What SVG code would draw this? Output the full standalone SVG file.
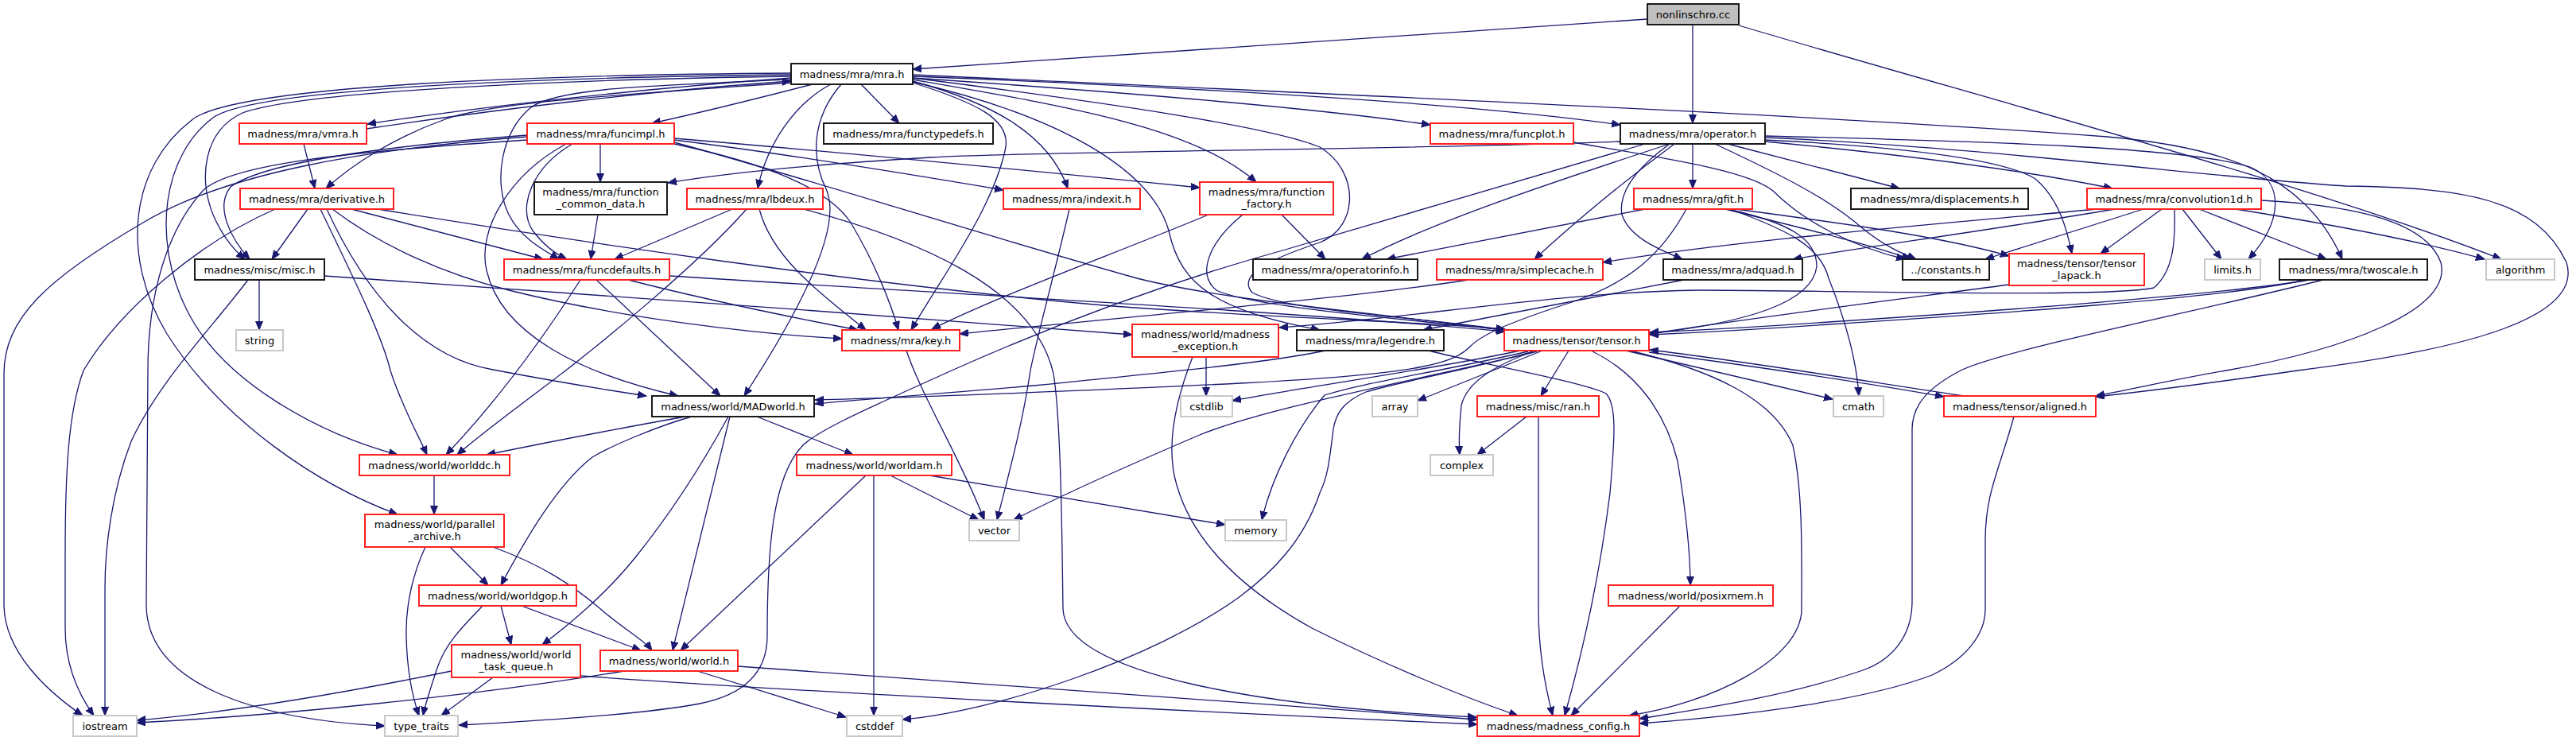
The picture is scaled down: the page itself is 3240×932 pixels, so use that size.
<svg xmlns="http://www.w3.org/2000/svg" width="3240" height="932" viewBox="0 0 3240 932">
<style>
rect{fill:#fff;stroke-width:2}
.b{stroke:#1a1a1a}
.r{stroke:#ff2020}
.g{stroke:#c8c8c8}
.root{fill:#bfbfbf;stroke:#1a1a1a}
text{font-family:"DejaVu Sans","Liberation Sans",sans-serif;font-size:13px;fill:#000;text-anchor:middle}
#edges path{fill:none;stroke:#191970;stroke-width:1.3}
</style>
<defs>
<marker id="a" markerUnits="userSpaceOnUse" markerWidth="12" markerHeight="10" refX="11" refY="4.5" orient="auto"><path d="M0,0 L11,4.5 L0,9 z" fill="#191970" stroke="#191970" stroke-width="1"/></marker>
</defs>
<rect x="0" y="0" width="3240" height="932" style="fill:#fff;stroke:none"/>
<g id="edges">
<path d="M2072,24 L1148,87" marker-end="url(#a)"/>
<path d="M2129,31 L2129,155" marker-end="url(#a)"/>
<path d="M2187,32 C2500,125 2900,230 3146,326" marker-end="url(#a)"/>
<path d="M995,98 C800,112 600,135 462,156" marker-end="url(#a)"/>
<path d="M461,162 C620,138 820,114 995,102" marker-end="url(#a)"/>
<path d="M1022,106 C960,122 880,142 820,155" marker-end="url(#a)"/>
<path d="M995,104 C800,118 620,128 560,150 C490,175 440,210 410,237" marker-end="url(#a)"/>
<path d="M995,96 C700,100 380,115 305,142 C255,165 250,225 268,270 C280,298 295,315 308,326" marker-end="url(#a)"/>
<path d="M995,94 C700,97 320,110 268,148 C205,195 190,300 235,390 C280,480 400,545 500,572" marker-end="url(#a)"/>
<path d="M995,92 C700,94 290,106 240,152 C165,210 150,320 210,420 C280,530 400,610 500,647" marker-end="url(#a)"/>
<path d="M995,100 C800,108 700,112 668,135 C630,165 620,230 640,270 C655,300 685,315 703,326" marker-end="url(#a)"/>
<path d="M1045,106 C1000,130 965,180 953,237" marker-end="url(#a)"/>
<path d="M1058,106 C1020,150 1020,200 1040,240 C1060,290 1000,400 936,498" marker-end="url(#a)"/>
<path d="M1083,106 L1131,155" marker-end="url(#a)"/>
<path d="M1148,104 C1230,130 1270,150 1265,185 C1250,260 1190,340 1146,415" marker-end="url(#a)"/>
<path d="M1148,102 C1250,130 1320,170 1343,237" marker-end="url(#a)"/>
<path d="M1148,103 C1350,150 1450,220 1470,290 C1485,360 1530,390 1660,415" marker-end="url(#a)"/>
<path d="M1148,100 C1350,135 1500,160 1580,229" marker-end="url(#a)"/>
<path d="M1148,98 C1400,130 1600,160 1660,185 C1710,215 1710,285 1660,305 C1600,325 1555,345 1575,368 C1620,392 1800,400 1893,415" marker-end="url(#a)"/>
<path d="M1148,94 C1600,115 2300,145 2650,172 C2800,185 2900,220 2946,326" marker-end="url(#a)"/>
<path d="M1148,96 C1500,110 1850,130 2038,157" marker-end="url(#a)"/>
<path d="M1148,98 C1400,115 1650,135 1799,157" marker-end="url(#a)"/>
<path d="M382,181 L396,237" marker-end="url(#a)"/>
<path d="M663,172 C450,188 280,220 180,280 C60,350 5,400 5,470 L5,760 C5,820 60,870 104,900" marker-end="url(#a)"/>
<path d="M663,176 C450,190 290,205 255,240 C210,290 186,370 186,466 L184,760 C184,860 320,905 484,913" marker-end="url(#a)"/>
<path d="M663,170 C470,185 330,205 290,235 C270,260 290,300 314,326" marker-end="url(#a)"/>
<path d="M755,181 L755,229" marker-end="url(#a)"/>
<path d="M720,181 C670,210 650,260 670,290 C685,310 700,320 713,326" marker-end="url(#a)"/>
<path d="M712,181 C640,220 600,290 612,340 C630,420 730,470 853,498" marker-end="url(#a)"/>
<path d="M848,181 C960,205 1040,235 1070,280 C1100,330 1120,380 1130,415" marker-end="url(#a)"/>
<path d="M848,179 C1000,220 1250,300 1430,350 C1550,380 1750,395 1893,416" marker-end="url(#a)"/>
<path d="M848,176 C1000,195 1150,220 1262,239" marker-end="url(#a)"/>
<path d="M848,174 C1100,195 1350,220 1509,236" marker-end="url(#a)"/>
<path d="M387,263 L342,326" marker-end="url(#a)"/>
<path d="M442,263 L683,326" marker-end="url(#a)"/>
<path d="M346,263 C250,305 150,390 105,466 C85,520 82,600 82,700 L82,790 C82,840 100,875 118,900" marker-end="url(#a)"/>
<path d="M418,263 C480,310 560,345 640,365 C780,400 950,420 1059,426" marker-end="url(#a)"/>
<path d="M411,263 C460,370 530,450 620,465 C700,480 760,490 813,498" marker-end="url(#a)"/>
<path d="M403,263 C440,340 480,420 491,466 C505,510 525,545 537,572" marker-end="url(#a)"/>
<path d="M475,263 C700,300 1100,360 1400,385 C1600,400 1800,405 1893,414" marker-end="url(#a)"/>
<path d="M326,352 L326,415" marker-end="url(#a)"/>
<path d="M312,352 C260,420 200,480 165,555 C140,620 132,690 132,740 L132,900" marker-end="url(#a)"/>
<path d="M408,347 C700,368 1100,395 1424,421" marker-end="url(#a)"/>
<path d="M752,270 L743,326" marker-end="url(#a)"/>
<path d="M921,263 L773,326" marker-end="url(#a)"/>
<path d="M939,263 C880,330 760,430 680,490 C640,520 600,550 575,572" marker-end="url(#a)"/>
<path d="M955,263 C970,320 1020,360 1089,415" marker-end="url(#a)"/>
<path d="M1011,263 C1150,300 1300,360 1325,470 C1335,530 1336,700 1337,766 C1340,850 1600,890 1857,902" marker-end="url(#a)"/>
<path d="M730,352 C680,430 620,510 561,572" marker-end="url(#a)"/>
<path d="M750,352 L906,498" marker-end="url(#a)"/>
<path d="M790,352 C900,380 1000,400 1079,415" marker-end="url(#a)"/>
<path d="M842,347 C1200,370 1600,390 1893,417" marker-end="url(#a)"/>
<path d="M1345,263 C1325,350 1305,420 1296,466 C1285,540 1265,610 1254,654" marker-end="url(#a)"/>
<path d="M1140,441 C1160,500 1210,580 1238,654" marker-end="url(#a)"/>
<path d="M1520,270 C1400,320 1260,370 1172,414" marker-end="url(#a)"/>
<path d="M1563,270 C1520,305 1505,345 1530,365 C1570,385 1750,400 1893,415" marker-end="url(#a)"/>
<path d="M1612,270 L1667,326" marker-end="url(#a)"/>
<path d="M2038,178 C1800,188 1300,190 1171,198 C1000,208 900,220 840,230" marker-end="url(#a)"/>
<path d="M2069,181 L1620,313 C1450,360 1300,420 1197,466 C1100,510 1030,540 1010,560 C970,600 965,700 965,800 C965,850 930,875 880,885 C800,900 650,908 577,912" marker-end="url(#a)"/>
<path d="M2100,181 C1950,230 1800,280 1713,326" marker-end="url(#a)"/>
<path d="M2106,181 C2040,230 1980,280 1930,326" marker-end="url(#a)"/>
<path d="M2100,181 C2060,210 2035,240 2040,270 C2050,300 2090,315 2116,326" marker-end="url(#a)"/>
<path d="M2129,181 L2129,237" marker-end="url(#a)"/>
<path d="M2173,181 L2389,237" marker-end="url(#a)"/>
<path d="M2157,181 C2240,220 2300,250 2340,285 C2370,310 2395,320 2410,326" marker-end="url(#a)"/>
<path d="M2220,171 C2500,178 2750,185 2830,210 C2875,230 2870,280 2828,326" marker-end="url(#a)"/>
<path d="M2220,173 C2500,185 2800,225 2950,234 C3100,236 3190,250 3228,330 C3250,400 3100,440 2890,466 C2780,482 2700,492 2636,499" marker-end="url(#a)"/>
<path d="M2220,176 C2400,185 2520,200 2560,225 C2590,250 2600,290 2606,319" marker-end="url(#a)"/>
<path d="M2220,178 C2400,195 2550,215 2657,237" marker-end="url(#a)"/>
<path d="M1979,179 C2100,200 2200,215 2230,240 C2270,280 2330,310 2396,326" marker-end="url(#a)"/>
<path d="M2069,263 L1744,326" marker-end="url(#a)"/>
<path d="M2121,263 C2090,320 2050,355 1977,380 C1900,405 1865,420 1850,435 C1830,455 1800,470 1560,482 C1400,490 1150,500 1025,503" marker-end="url(#a)"/>
<path d="M2170,263 C2280,290 2360,310 2403,326" marker-end="url(#a)"/>
<path d="M2183,263 C2350,285 2450,300 2527,322" marker-end="url(#a)"/>
<path d="M2176,263 C2250,290 2290,310 2300,350 C2320,400 2335,450 2338,498" marker-end="url(#a)"/>
<path d="M2173,263 C2250,280 2285,300 2285,335 C2280,380 2200,405 2075,420" marker-end="url(#a)"/>
<path d="M2637,263 C2430,283 2200,300 2016,330" marker-end="url(#a)"/>
<path d="M2660,263 C2500,290 2350,310 2255,326" marker-end="url(#a)"/>
<path d="M2696,263 L2497,326" marker-end="url(#a)"/>
<path d="M2719,263 L2642,319" marker-end="url(#a)"/>
<path d="M2745,263 L2794,326" marker-end="url(#a)"/>
<path d="M2766,263 L2926,326" marker-end="url(#a)"/>
<path d="M2812,263 C2950,285 3050,305 3125,326" marker-end="url(#a)"/>
<path d="M2844,252 C2950,258 3050,275 3070,330 C3085,390 2950,440 2800,466 C2720,480 2680,490 2636,498" marker-end="url(#a)"/>
<path d="M2735,263 C2736,300 2735,340 2709,362 C2650,375 2300,365 2137,365 C1950,368 1780,400 1609,412" marker-end="url(#a)"/>
<path d="M2905,352 C2800,370 2500,392 2300,405 C2200,412 2120,416 2075,418" marker-end="url(#a)"/>
<path d="M2900,352 C2800,375 2500,395 2300,408 C2200,415 2120,419 2075,421" marker-end="url(#a)"/>
<path d="M2922,352 C2750,395 2520,440 2466,466 C2430,485 2405,506 2405,540 L2405,756 C2405,800 2380,830 2343,843 C2250,875 2150,890 2062,904" marker-end="url(#a)"/>
<path d="M2527,358 C2400,375 2200,400 2075,420" marker-end="url(#a)"/>
<path d="M2470,498 C2350,480 2200,455 2075,440" marker-end="url(#a)"/>
<path d="M2074,443 C2200,460 2350,482 2445,499" marker-end="url(#a)"/>
<path d="M2533,524 C2515,590 2497,620 2497,680 L2497,766 C2497,800 2470,830 2430,849 C2350,880 2200,900 2062,910" marker-end="url(#a)"/>
<path d="M1912,441 C1800,465 1650,485 1550,504" marker-end="url(#a)"/>
<path d="M1933,442 C1800,475 1600,510 1509,547 C1420,585 1340,620 1275,654" marker-end="url(#a)"/>
<path d="M1928,442 C1850,465 1760,480 1718,493 C1690,505 1680,520 1677,540 C1672,580 1670,600 1660,620 C1640,680 1600,720 1560,750 C1450,830 1250,895 1135,905" marker-end="url(#a)"/>
<path d="M1922,442 C1800,470 1720,480 1666,497 C1630,540 1600,600 1587,654" marker-end="url(#a)"/>
<path d="M1940,441 L1783,504" marker-end="url(#a)"/>
<path d="M1928,442 C1880,460 1845,480 1838,510 C1835,540 1835,560 1836,572" marker-end="url(#a)"/>
<path d="M1973,441 L1938,498" marker-end="url(#a)"/>
<path d="M2003,442 C2060,470 2095,520 2110,580 C2120,640 2126,690 2126,736" marker-end="url(#a)"/>
<path d="M2045,441 L2305,502" marker-end="url(#a)"/>
<path d="M2050,441 C2150,465 2230,500 2255,560 C2268,620 2266,700 2266,766 C2266,830 2150,885 2049,900" marker-end="url(#a)"/>
<path d="M1667,441 C1600,455 1500,465 1300,485 C1150,498 1060,504 1025,508" marker-end="url(#a)"/>
<path d="M1797,441 C1850,455 1990,480 2020,495 C2035,510 2030,560 2025,620 C2010,740 1985,840 1968,900" marker-end="url(#a)"/>
<path d="M1920,524 L1858,572" marker-end="url(#a)"/>
<path d="M1935,524 L1935,766 C1935,820 1945,870 1953,900" marker-end="url(#a)"/>
<path d="M2113,762 L1976,900" marker-end="url(#a)"/>
<path d="M1517,449 L1517,498" marker-end="url(#a)"/>
<path d="M1500,449 C1480,500 1465,560 1480,610 C1500,680 1560,740 1650,790 C1750,840 1850,880 1909,900" marker-end="url(#a)"/>
<path d="M2118,352 C2000,375 1870,400 1790,415" marker-end="url(#a)"/>
<path d="M1847,352 C1700,375 1400,400 1207,420" marker-end="url(#a)"/>
<path d="M862,524 C800,535 720,550 612,572" marker-end="url(#a)"/>
<path d="M870,524 C830,535 770,560 745,575 C700,610 660,680 630,736" marker-end="url(#a)"/>
<path d="M916,524 C880,590 840,650 800,700 C760,750 710,790 682,811" marker-end="url(#a)"/>
<path d="M918,524 L846,818" marker-end="url(#a)"/>
<path d="M952,524 L1073,572" marker-end="url(#a)"/>
<path d="M546,598 L546,647" marker-end="url(#a)"/>
<path d="M535,688 C520,720 510,760 511,800 C512,850 520,880 527,900" marker-end="url(#a)"/>
<path d="M566,688 L614,736" marker-end="url(#a)"/>
<path d="M620,688 C680,710 720,735 760,770 C790,795 810,805 820,818" marker-end="url(#a)"/>
<path d="M607,762 C580,790 560,810 550,840 C540,870 535,885 532,900" marker-end="url(#a)"/>
<path d="M630,762 L643,811" marker-end="url(#a)"/>
<path d="M656,762 L806,818" marker-end="url(#a)"/>
<path d="M568,844 C450,868 300,895 172,906" marker-end="url(#a)"/>
<path d="M620,852 L555,900" marker-end="url(#a)"/>
<path d="M730,850 C1000,870 1500,895 1858,911" marker-end="url(#a)"/>
<path d="M785,844 C600,875 350,900 172,909" marker-end="url(#a)"/>
<path d="M877,844 L1064,902" marker-end="url(#a)"/>
<path d="M928,838 C1300,865 1600,888 1858,905" marker-end="url(#a)"/>
<path d="M1089,598 L856,818" marker-end="url(#a)"/>
<path d="M1099,598 L1099,900" marker-end="url(#a)"/>
<path d="M1120,598 L1231,654" marker-end="url(#a)"/>
<path d="M1169,598 L1541,660" marker-end="url(#a)"/>
</g>
<g id="n_cc"><rect class="root" x="2072" y="5" width="115" height="26"/><text x="2129.5" y="22.5">nonlinschro.cc</text></g>
<g id="n_mra"><rect class="b" x="995" y="80" width="153" height="26"/><text x="1071.5" y="97.5">madness/mra/mra.h</text></g>
<g id="n_vmra"><rect class="r" x="301" y="155" width="160" height="26"/><text x="381" y="172.5">madness/mra/vmra.h</text></g>
<g id="n_funcimpl"><rect class="r" x="663" y="155" width="185" height="26"/><text x="755.5" y="172.5">madness/mra/funcimpl.h</text></g>
<g id="n_functypedefs"><rect class="b" x="1036" y="155" width="213" height="26"/><text x="1142.5" y="172.5">madness/mra/functypedefs.h</text></g>
<g id="n_funcplot"><rect class="r" x="1799" y="155" width="180" height="26"/><text x="1889" y="172.5">madness/mra/funcplot.h</text></g>
<g id="n_operator"><rect class="b" x="2038" y="155" width="182" height="26"/><text x="2129" y="172.5">madness/mra/operator.h</text></g>
<g id="n_derivative"><rect class="r" x="302" y="237" width="193" height="26"/><text x="398.5" y="254.5">madness/mra/derivative.h</text></g>
<g id="n_fcd"><rect class="b" x="672" y="229" width="167" height="41"/><text x="755.5" y="246">madness/mra/function</text><text x="755.5" y="261">_common_data.h</text></g>
<g id="n_lbdeux"><rect class="r" x="864" y="237" width="171" height="26"/><text x="949.5" y="254.5">madness/mra/lbdeux.h</text></g>
<g id="n_indexit"><rect class="r" x="1262" y="237" width="172" height="26"/><text x="1348" y="254.5">madness/mra/indexit.h</text></g>
<g id="n_ffactory"><rect class="r" x="1509" y="229" width="168" height="41"/><text x="1593" y="246">madness/mra/function</text><text x="1593" y="261">_factory.h</text></g>
<g id="n_gfit"><rect class="r" x="2055" y="237" width="149" height="26"/><text x="2129.5" y="254.5">madness/mra/gfit.h</text></g>
<g id="n_displ"><rect class="b" x="2328" y="237" width="223" height="26"/><text x="2439.5" y="254.5">madness/mra/displacements.h</text></g>
<g id="n_conv1d"><rect class="r" x="2625" y="237" width="219" height="26"/><text x="2734.5" y="254.5">madness/mra/convolution1d.h</text></g>
<g id="n_misc"><rect class="b" x="245" y="326" width="163" height="26"/><text x="326.5" y="343.5">madness/misc/misc.h</text></g>
<g id="n_string"><rect class="g" x="297" y="415" width="59" height="26"/><text x="326.5" y="432.5">string</text></g>
<g id="n_funcdefaults"><rect class="r" x="634" y="326" width="208" height="26"/><text x="738" y="343.5">madness/mra/funcdefaults.h</text></g>
<g id="n_opinfo"><rect class="b" x="1576" y="326" width="207" height="26"/><text x="1679.5" y="343.5">madness/mra/operatorinfo.h</text></g>
<g id="n_simplecache"><rect class="r" x="1807" y="326" width="209" height="26"/><text x="1911.5" y="343.5">madness/mra/simplecache.h</text></g>
<g id="n_adquad"><rect class="b" x="2092" y="326" width="175" height="26"/><text x="2179.5" y="343.5">madness/mra/adquad.h</text></g>
<g id="n_constants"><rect class="b" x="2393" y="326" width="109" height="26"/><text x="2447.5" y="343.5">../constants.h</text></g>
<g id="n_tlapack"><rect class="r" x="2527" y="319" width="170" height="40"/><text x="2612" y="336">madness/tensor/tensor</text><text x="2612" y="351">_lapack.h</text></g>
<g id="n_limits"><rect class="g" x="2773" y="326" width="70" height="26"/><text x="2808" y="343.5">limits.h</text></g>
<g id="n_twoscale"><rect class="b" x="2867" y="326" width="186" height="26"/><text x="2960" y="343.5">madness/mra/twoscale.h</text></g>
<g id="n_algorithm"><rect class="g" x="3127" y="326" width="86" height="26"/><text x="3170" y="343.5">algorithm</text></g>
<g id="n_key"><rect class="r" x="1059" y="415" width="148" height="26"/><text x="1133" y="432.5">madness/mra/key.h</text></g>
<g id="n_mexc"><rect class="r" x="1424" y="408" width="184" height="41"/><text x="1516" y="425">madness/world/madness</text><text x="1516" y="440">_exception.h</text></g>
<g id="n_legendre"><rect class="b" x="1631" y="415" width="185" height="26"/><text x="1723.5" y="432.5">madness/mra/legendre.h</text></g>
<g id="n_tensor"><rect class="r" x="1892" y="415" width="182" height="26"/><text x="1983" y="432.5">madness/tensor/tensor.h</text></g>
<g id="n_madworld"><rect class="b" x="820" y="498" width="204" height="26"/><text x="922" y="515.5">madness/world/MADworld.h</text></g>
<g id="n_cstdlib"><rect class="g" x="1485" y="498" width="65" height="26"/><text x="1517.5" y="515.5">cstdlib</text></g>
<g id="n_array"><rect class="g" x="1726" y="498" width="57" height="26"/><text x="1754.5" y="515.5">array</text></g>
<g id="n_ran"><rect class="r" x="1858" y="498" width="153" height="26"/><text x="1934.5" y="515.5">madness/misc/ran.h</text></g>
<g id="n_cmath"><rect class="g" x="2306" y="498" width="63" height="26"/><text x="2337.5" y="515.5">cmath</text></g>
<g id="n_aligned"><rect class="r" x="2445" y="498" width="191" height="26"/><text x="2540.5" y="515.5">madness/tensor/aligned.h</text></g>
<g id="n_worlddc"><rect class="r" x="452" y="572" width="189" height="26"/><text x="546.5" y="589.5">madness/world/worlddc.h</text></g>
<g id="n_worldam"><rect class="r" x="1002" y="572" width="195" height="26"/><text x="1099.5" y="589.5">madness/world/worldam.h</text></g>
<g id="n_complex"><rect class="g" x="1799" y="572" width="79" height="26"/><text x="1838.5" y="589.5">complex</text></g>
<g id="n_vector"><rect class="g" x="1219" y="654" width="63" height="26"/><text x="1250.5" y="671.5">vector</text></g>
<g id="n_memory"><rect class="g" x="1541" y="654" width="77" height="26"/><text x="1579.5" y="671.5">memory</text></g>
<g id="n_parch"><rect class="r" x="459" y="647" width="175" height="41"/><text x="546.5" y="664">madness/world/parallel</text><text x="546.5" y="679">_archive.h</text></g>
<g id="n_worldgop"><rect class="r" x="527" y="736" width="198" height="26"/><text x="626" y="753.5">madness/world/worldgop.h</text></g>
<g id="n_posixmem"><rect class="r" x="2023" y="736" width="207" height="26"/><text x="2126.5" y="753.5">madness/world/posixmem.h</text></g>
<g id="n_wtq"><rect class="r" x="568" y="811" width="162" height="41"/><text x="649" y="828">madness/world/world</text><text x="649" y="843">_task_queue.h</text></g>
<g id="n_world"><rect class="r" x="755" y="818" width="173" height="26"/><text x="841.5" y="835.5">madness/world/world.h</text></g>
<g id="n_iostream"><rect class="g" x="92" y="900" width="80" height="26"/><text x="132" y="917.5">iostream</text></g>
<g id="n_typetraits"><rect class="g" x="484" y="900" width="92" height="26"/><text x="530" y="917.5">type_traits</text></g>
<g id="n_cstddef"><rect class="g" x="1065" y="900" width="70" height="26"/><text x="1100" y="917.5">cstddef</text></g>
<g id="n_config"><rect class="r" x="1858" y="900" width="204" height="26"/><text x="1960" y="917.5">madness/madness_config.h</text></g>
</svg>
